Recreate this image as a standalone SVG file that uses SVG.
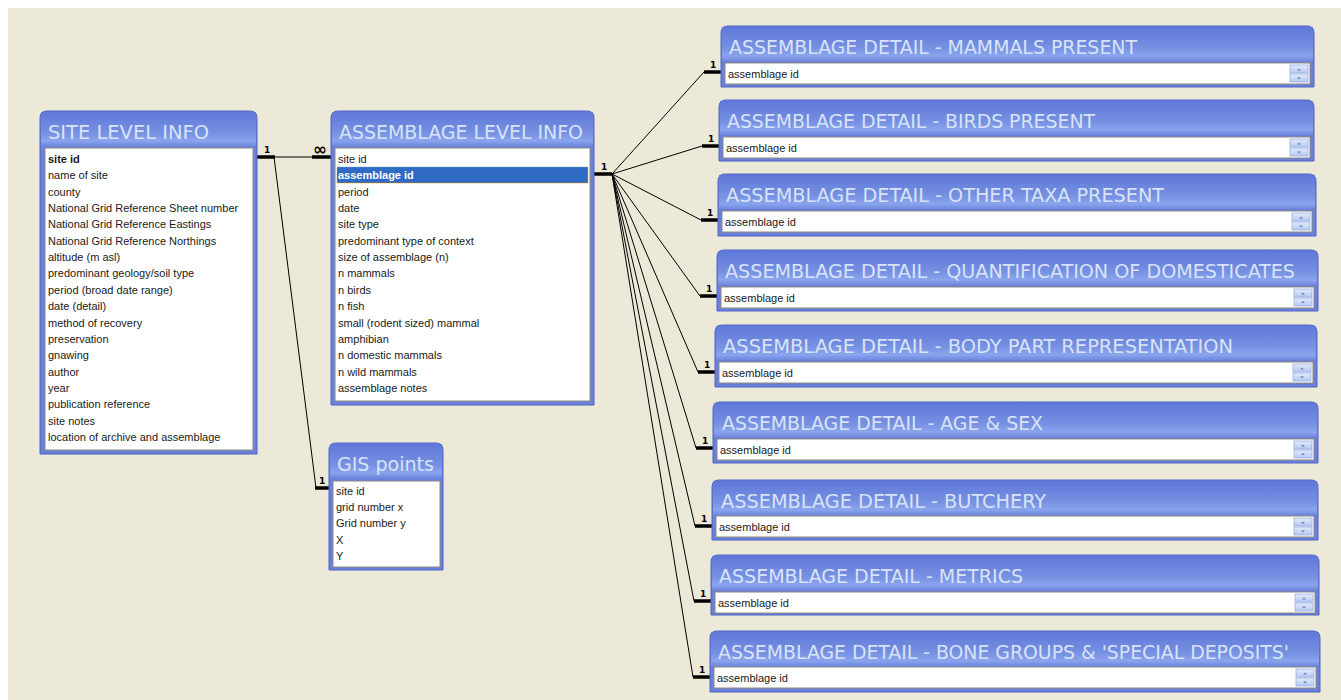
<svg xmlns="http://www.w3.org/2000/svg" width="1341" height="700" viewBox="0 0 1341 700">
<defs>
<linearGradient id="tb" x1="0" y1="0" x2="0" y2="1">
<stop offset="0" stop-color="#6078D8"/>
<stop offset="0.6" stop-color="#7690E2"/>
<stop offset="0.85" stop-color="#8AA4EE"/>
<stop offset="1" stop-color="#6F87DD"/>
</linearGradient>
<linearGradient id="sb" x1="0" y1="0" x2="0" y2="1">
<stop offset="0" stop-color="#E4ECFC"/>
<stop offset="1" stop-color="#B4C8F2"/>
</linearGradient>
<style>
.frame{fill:#6A80DA;stroke:#4F64C6;stroke-width:1}
.band{fill:url(#tb)}
.title{font-family:"DejaVu Sans Condensed","DejaVu Sans",sans-serif;font-size:20px;fill:#D8E3F8}
.list{fill:#FFFFFF;stroke:#8C8A80;stroke-width:1}
.item{font-family:"Liberation Sans",Arial,sans-serif;font-size:11px;fill:#1A1A1A}
.key{font-weight:bold}
.sel{fill:#316AC5}
.selt{fill:#FFFFFF;font-weight:bold}
.thin{stroke:#000;stroke-width:1;fill:none}
.thick{stroke:#000;stroke-width:3.5;fill:none}
.lab{font-family:"DejaVu Sans",sans-serif;font-size:9px;font-weight:bold;fill:#000}
.inf{font-family:"DejaVu Sans",sans-serif;font-size:17px;font-weight:bold;fill:#000}
.sbtn{fill:url(#sb);stroke:#9AAFE0;stroke-width:0.8}
.arr{fill:#6F80B0}
</style>
</defs>
<rect x="0" y="0" width="1341" height="700" fill="#FFFFFF"/>
<rect x="8" y="8" width="1333" height="692" fill="#ECE9D8"/>

<g id="connectors">
<line class="thick" x1="257" y1="157" x2="275" y2="157"/>
<line class="thin" x1="275" y1="157" x2="312" y2="157"/>
<line class="thick" x1="312" y1="157" x2="331" y2="157"/>
<text class="lab" x="264" y="153">1</text>
<text class="inf" x="313" y="155">∞</text>
<polyline class="thin" points="274,157 316,488"/>
<line class="thick" x1="315" y1="488" x2="329" y2="488"/>
<text class="lab" x="319" y="484">1</text>
<line class="thick" x1="594" y1="174" x2="612" y2="174"/>
<text class="lab" x="601" y="170">1</text>
<g>
<line class="thin" x1="612" y1="174" x2="704" y2="72"/>
<line class="thick" x1="704" y1="72" x2="721" y2="72"/>
<text class="lab" x="710" y="68">1</text>
<line class="thin" x1="612" y1="174" x2="702" y2="146"/>
<line class="thick" x1="702" y1="146" x2="719" y2="146"/>
<text class="lab" x="708" y="142">1</text>
<line class="thin" x1="612" y1="174" x2="701" y2="220"/>
<line class="thick" x1="701" y1="220" x2="718" y2="220"/>
<text class="lab" x="707" y="216">1</text>
<line class="thin" x1="612" y1="174" x2="700" y2="296"/>
<line class="thick" x1="700" y1="296" x2="717" y2="296"/>
<text class="lab" x="706" y="292">1</text>
<line class="thin" x1="612" y1="174" x2="698" y2="372"/>
<line class="thick" x1="698" y1="372" x2="715" y2="372"/>
<text class="lab" x="704" y="368">1</text>
<line class="thin" x1="612" y1="174" x2="696" y2="448"/>
<line class="thick" x1="696" y1="448" x2="713" y2="448"/>
<text class="lab" x="702" y="444">1</text>
<line class="thin" x1="612" y1="174" x2="695" y2="526"/>
<line class="thick" x1="695" y1="526" x2="712" y2="526"/>
<text class="lab" x="701" y="522">1</text>
<line class="thin" x1="612" y1="174" x2="694" y2="601"/>
<line class="thick" x1="694" y1="601" x2="711" y2="601"/>
<text class="lab" x="700" y="597">1</text>
<line class="thin" x1="612" y1="174" x2="693" y2="677"/>
<line class="thick" x1="693" y1="677" x2="710" y2="677"/>
<text class="lab" x="699" y="673">1</text>
</g>
</g>

<g id="site-level-info">
<path class="frame" d="M40,454 V118 Q40,111 47,111 H250 Q257,111 257,118 V454 Z"/>
<rect class="band" x="41" y="112" width="215" height="34"/>
<text class="title" x="48" y="139" textLength="161" lengthAdjust="spacingAndGlyphs">SITE LEVEL INFO</text>
<rect class="list" x="45" y="148" width="208" height="302"/>
<g class="item">
<text class="key" x="48" y="163">site id</text>
<text x="48" y="179">name of site</text>
<text x="48" y="196">county</text>
<text x="48" y="212">National Grid Reference Sheet number</text>
<text x="48" y="228">National Grid Reference Eastings</text>
<text x="48" y="245">National Grid Reference Northings</text>
<text x="48" y="261">altitude (m asl)</text>
<text x="48" y="277">predominant geology/soil type</text>
<text x="48" y="294">period (broad date range)</text>
<text x="48" y="310">date (detail)</text>
<text x="48" y="327">method of recovery</text>
<text x="48" y="343">preservation</text>
<text x="48" y="359">gnawing</text>
<text x="48" y="376">author</text>
<text x="48" y="392">year</text>
<text x="48" y="408">publication reference</text>
<text x="48" y="425">site notes</text>
<text x="48" y="441">location of archive and assemblage</text>
</g>
</g>

<g id="assemblage-level-info">
<path class="frame" d="M331,405 V118 Q331,111 338,111 H587 Q594,111 594,118 V405 Z"/>
<rect class="band" x="332" y="112" width="261" height="34"/>
<text class="title" x="339" y="139" textLength="244" lengthAdjust="spacingAndGlyphs">ASSEMBLAGE LEVEL INFO</text>
<rect class="list" x="335" y="148" width="255" height="253"/>
<rect class="sel" x="337" y="167" width="251" height="16" stroke="#C8A040" stroke-dasharray="1,1" stroke-width="0.8"/>
<g class="item">
<text x="338" y="163">site id</text>
<text class="selt" x="338" y="179">assemblage id</text>
<text x="338" y="196">period</text>
<text x="338" y="212">date</text>
<text x="338" y="228">site type</text>
<text x="338" y="245">predominant type of context</text>
<text x="338" y="261">size of assemblage (n)</text>
<text x="338" y="277">n mammals</text>
<text x="338" y="294">n birds</text>
<text x="338" y="310">n fish</text>
<text x="338" y="327">small (rodent sized) mammal</text>
<text x="338" y="343">amphibian</text>
<text x="338" y="359">n domestic mammals</text>
<text x="338" y="376">n wild mammals</text>
<text x="338" y="392">assemblage notes</text>
</g>
</g>

<g id="gis-points">
<path class="frame" d="M329,570 V450 Q329,443 336,443 H436 Q443,443 443,450 V570 Z"/>
<rect class="band" x="330" y="444" width="112" height="34"/>
<text class="title" x="337" y="471" textLength="97" lengthAdjust="spacingAndGlyphs">GIS points</text>
<rect class="list" x="333" y="481" width="107" height="86"/>
<g class="item">
<text x="336" y="495">site id</text>
<text x="336" y="511">grid number x</text>
<text x="336" y="527">Grid number y</text>
<text x="336" y="544">X</text>
<text x="336" y="560">Y</text>
</g>
</g>

<g id="detail-mammals">
<path class="frame" d="M721,87 V33 Q721,26 728,26 H1307 Q1314,26 1314,33 V87 Z"/>
<rect class="band" x="722" y="27" width="591" height="34"/>
<text class="title" x="729" y="54" textLength="408" lengthAdjust="spacingAndGlyphs">ASSEMBLAGE DETAIL - MAMMALS PRESENT</text>
<rect class="list" x="725" y="63" width="585" height="21"/>
<text class="item" x="728" y="78">assemblage id</text>
<rect class="sbtn" x="1290" y="65" width="18" height="8"/><rect class="sbtn" x="1290" y="74" width="18" height="8"/>
<path class="arr" d="M1297,70.5 l2,-2 l2,2 Z M1297,77.5 l2,2 l2,-2 Z"/>
</g>

<g id="detail-birds">
<path class="frame" d="M719,161 V107 Q719,100 726,100 H1307 Q1314,100 1314,107 V161 Z"/>
<rect class="band" x="720" y="101" width="593" height="34"/>
<text class="title" x="727" y="128" textLength="368" lengthAdjust="spacingAndGlyphs">ASSEMBLAGE DETAIL - BIRDS PRESENT</text>
<rect class="list" x="723" y="137" width="587" height="21"/>
<text class="item" x="726" y="152">assemblage id</text>
<rect class="sbtn" x="1290" y="139" width="18" height="8"/><rect class="sbtn" x="1290" y="148" width="18" height="8"/>
<path class="arr" d="M1297,144.5 l2,-2 l2,2 Z M1297,151.5 l2,2 l2,-2 Z"/>
</g>

<g id="detail-other-taxa">
<path class="frame" d="M718,236 V181 Q718,174 725,174 H1309 Q1316,174 1316,181 V236 Z"/>
<rect class="band" x="719" y="175" width="596" height="34"/>
<text class="title" x="726" y="202" textLength="438" lengthAdjust="spacingAndGlyphs">ASSEMBLAGE DETAIL - OTHER TAXA PRESENT</text>
<rect class="list" x="722" y="211" width="590" height="21"/>
<text class="item" x="725" y="226">assemblage id</text>
<rect class="sbtn" x="1292" y="213" width="18" height="8"/><rect class="sbtn" x="1292" y="222" width="18" height="8"/>
<path class="arr" d="M1299,218.5 l2,-2 l2,2 Z M1299,225.5 l2,2 l2,-2 Z"/>
</g>

<g id="detail-quantification">
<path class="frame" d="M717,311 V257 Q717,250 724,250 H1311 Q1318,250 1318,257 V311 Z"/>
<rect class="band" x="718" y="251" width="599" height="34"/>
<text class="title" x="725" y="278" textLength="570" lengthAdjust="spacingAndGlyphs">ASSEMBLAGE DETAIL - QUANTIFICATION OF DOMESTICATES</text>
<rect class="list" x="721" y="287" width="593" height="21"/>
<text class="item" x="724" y="302">assemblage id</text>
<rect class="sbtn" x="1294" y="289" width="18" height="8"/><rect class="sbtn" x="1294" y="298" width="18" height="8"/>
<path class="arr" d="M1301,294.5 l2,-2 l2,2 Z M1301,301.5 l2,2 l2,-2 Z"/>
</g>

<g id="detail-body-part">
<path class="frame" d="M715,387 V332 Q715,325 722,325 H1310 Q1317,325 1317,332 V387 Z"/>
<rect class="band" x="716" y="326" width="600" height="34"/>
<text class="title" x="723" y="353" textLength="510" lengthAdjust="spacingAndGlyphs">ASSEMBLAGE DETAIL - BODY PART REPRESENTATION</text>
<rect class="list" x="719" y="362" width="594" height="21"/>
<text class="item" x="722" y="377">assemblage id</text>
<rect class="sbtn" x="1293" y="364" width="18" height="8"/><rect class="sbtn" x="1293" y="373" width="18" height="8"/>
<path class="arr" d="M1300,369.5 l2,-2 l2,2 Z M1300,376.5 l2,2 l2,-2 Z"/>
</g>

<g id="detail-age-sex">
<path class="frame" d="M713,463 V409 Q713,402 720,402 H1311 Q1318,402 1318,409 V463 Z"/>
<rect class="band" x="714" y="403" width="603" height="34"/>
<text class="title" x="722" y="430" textLength="321" lengthAdjust="spacingAndGlyphs">ASSEMBLAGE DETAIL - AGE &amp; SEX</text>
<rect class="list" x="717" y="439" width="597" height="21"/>
<text class="item" x="720" y="454">assemblage id</text>
<rect class="sbtn" x="1294" y="441" width="18" height="8"/><rect class="sbtn" x="1294" y="450" width="18" height="8"/>
<path class="arr" d="M1301,446.5 l2,-2 l2,2 Z M1301,453.5 l2,2 l2,-2 Z"/>
</g>

<g id="detail-butchery">
<path class="frame" d="M712,540 V487 Q712,480 719,480 H1311 Q1318,480 1318,487 V540 Z"/>
<rect class="band" x="713" y="481" width="604" height="34"/>
<text class="title" x="721" y="508" textLength="325" lengthAdjust="spacingAndGlyphs">ASSEMBLAGE DETAIL - BUTCHERY</text>
<rect class="list" x="716" y="516" width="598" height="21"/>
<text class="item" x="719" y="531">assemblage id</text>
<rect class="sbtn" x="1294" y="518" width="18" height="8"/><rect class="sbtn" x="1294" y="527" width="18" height="8"/>
<path class="arr" d="M1301,523.5 l2,-2 l2,2 Z M1301,530.5 l2,2 l2,-2 Z"/>
</g>

<g id="detail-metrics">
<path class="frame" d="M711,615 V562 Q711,555 718,555 H1312 Q1319,555 1319,562 V615 Z"/>
<rect class="band" x="712" y="556" width="606" height="34"/>
<text class="title" x="719" y="583" textLength="304" lengthAdjust="spacingAndGlyphs">ASSEMBLAGE DETAIL - METRICS</text>
<rect class="list" x="715" y="592" width="600" height="21"/>
<text class="item" x="718" y="607">assemblage id</text>
<rect class="sbtn" x="1295" y="594" width="18" height="8"/><rect class="sbtn" x="1295" y="603" width="18" height="8"/>
<path class="arr" d="M1302,599.5 l2,-2 l2,2 Z M1302,606.5 l2,2 l2,-2 Z"/>
</g>

<g id="detail-bone-groups">
<path class="frame" d="M710,692 V638 Q710,631 717,631 H1313 Q1320,631 1320,638 V692 Z"/>
<rect class="band" x="711" y="632" width="608" height="34"/>
<text class="title" x="718" y="659" textLength="571" lengthAdjust="spacingAndGlyphs">ASSEMBLAGE DETAIL - BONE GROUPS &amp; 'SPECIAL DEPOSITS'</text>
<rect class="list" x="714" y="667" width="602" height="21"/>
<text class="item" x="717" y="682">assemblage id</text>
<rect class="sbtn" x="1296" y="669" width="18" height="8"/><rect class="sbtn" x="1296" y="678" width="18" height="8"/>
<path class="arr" d="M1303,674.5 l2,-2 l2,2 Z M1303,681.5 l2,2 l2,-2 Z"/>
</g>
</svg>
